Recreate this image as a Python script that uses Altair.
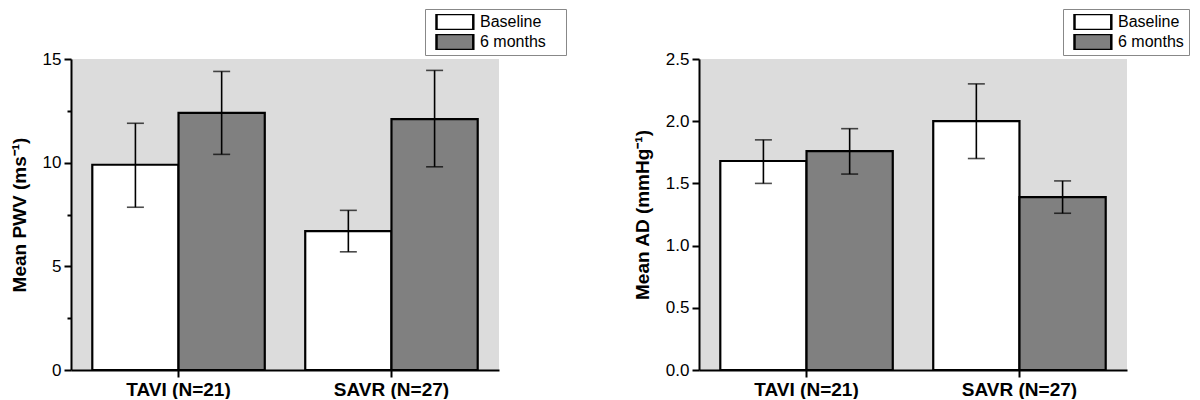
import altair as alt
import pandas as pd

groups = ["TAVI (N=21)", "SAVR (N=27)"]
periods = ["Baseline", "6 months"]

# order: TAVI baseline, TAVI 6 months, SAVR baseline, SAVR 6 months
row_group = ["TAVI (N=21)", "TAVI (N=21)", "SAVR (N=27)", "SAVR (N=27)"]
row_period = ["Baseline", "6 months", "Baseline", "6 months"]

pwv_mean = [9.9, 12.4, 6.7, 12.1]
pwv_low = [7.85, 10.4, 5.7, 9.8]
pwv_high = [11.9, 14.4, 7.7, 14.45]

ad_mean = [1.68, 1.76, 2.0, 1.39]
ad_low = [1.50, 1.575, 1.70, 1.26]
ad_high = [1.85, 1.94, 2.30, 1.52]

FONT = "Liberation Sans"


def panel(mean, low, high, ytitle, ymax, major, minor, fmt, lx, widen):
    df = pd.DataFrame({"group": row_group, "period": row_period,
                       "mean": mean, "low": low, "high": high})
    ticks = [round(i * minor, 4) for i in range(int(round(ymax / minor)) + 1)]
    x = alt.X("group:N", sort=groups,
              scale=alt.Scale(paddingInner=0.19, paddingOuter=0.1),
              axis=alt.Axis(title=None, labelAngle=0, labelFontWeight="bold",
                            labelFontSize=19, labelColor="black", labelFont=FONT,
                            domainColor="black", domainWidth=2,
                            tickColor="black", tickWidth=2, tickSize=7,
                            labelPadding=3))
    xo = alt.XOffset("period:N", sort=periods,
                     scale=alt.Scale(paddingInner=0, paddingOuter=0))
    yscale = alt.Scale(domain=[0, ymax], nice=False)
    is_major = f"abs(datum.value % {major}) < 1e-9"
    yaxis = alt.Axis(title=ytitle, values=ticks,
                     labelExpr=f"{is_major} ? format(datum.value, '{fmt}') : ''",
                     labelFontSize=17, labelColor="black", labelFont=FONT,
                     titleFontSize=19, titleFontWeight="bold", titleFont=FONT,
                     titleColor="black", titlePadding=13,
                     domainColor="black", domainWidth=2, grid=False,
                     tickColor="black", tickWidth=2,
                     tickSize={"condition": {"test": is_major, "value": 7}, "value": 4},
                     labelPadding=3)
    legend_kw = dict(orient="none", legendX=lx, legendY=-50,
                     symbolType="M-0.375,-1H4.225V1H-0.375Z", symbolSize=256,
                     symbolStrokeColor="black", symbolStrokeWidth=2.5,
                     labelFontSize=16, labelFont=FONT, labelColor="black",
                     labelOffset=31, rowPadding=4, clipHeight=16,
                     strokeColor="#888888", fillColor="white",
                     padding=5, symbolOpacity=1)
    if widen:
        legend_kw.update(title="MM", titleOrient="right", titleColor="transparent",
                         titleFontSize=9, titlePadding=0)
    else:
        legend_kw.update(title=None)
    base = alt.Chart(df)
    bars = base.mark_bar(stroke="black", strokeWidth=2.2).encode(
        x=x, xOffset=xo,
        y=alt.Y("mean:Q", scale=yscale, axis=yaxis),
        fill=alt.Fill("period:N", sort=periods,
                      scale=alt.Scale(domain=periods, range=["white", "#808080"]),
                      legend=alt.Legend(**legend_kw)),
    )
    rule = base.mark_rule(color="black", strokeWidth=1.6).encode(
        x=x, xOffset=xo, y=alt.Y("low:Q", scale=yscale), y2="high:Q")
    cap_lo = base.mark_tick(color="black", thickness=1.6, size=17).encode(
        x=x, xOffset=xo, y=alt.Y("low:Q", scale=yscale))
    cap_hi = base.mark_tick(color="black", thickness=1.6, size=17).encode(
        x=x, xOffset=xo, y=alt.Y("high:Q", scale=yscale))
    return alt.layer(bars, rule, cap_lo, cap_hi).properties(width=428, height=311)


left = panel(pwv_mean, pwv_low, pwv_high, "Mean PWV (ms⁻¹)", 15, 5, 2.5, "d", 354, True)
right = panel(ad_mean, ad_low, ad_high, "Mean AD (mmHg⁻¹)", 2.5, 0.5, 0.25, ".1f", 364, False)

chart = alt.hconcat(left, right, spacing=66).resolve_scale(
    fill="independent"
).resolve_legend(fill="independent").properties(
    padding={"left": 2, "top": 0, "right": 0, "bottom": 0}
).configure_view(fill="#dcdcdc", stroke=None)

chart.save("out.html", embed_options={"renderer": "svg", "actions": False})
